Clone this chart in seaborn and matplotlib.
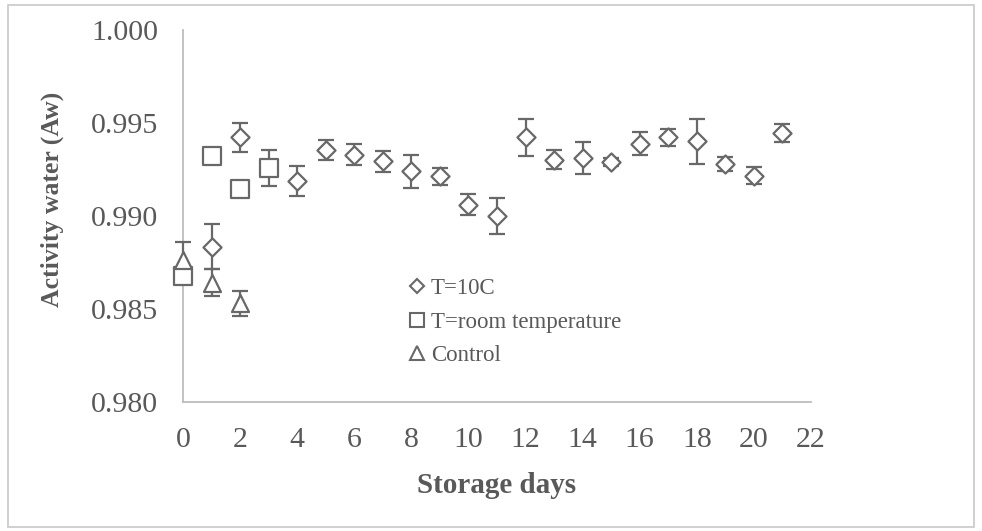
import matplotlib
matplotlib.use("Agg")
import matplotlib.pyplot as plt
from matplotlib.lines import Line2D
from matplotlib.patches import Rectangle
import seaborn as sns
import pandas as pd
import numpy as np

# ---- data ----
days_10c = [1, 2, 4, 5, 6, 7, 8, 9, 10, 11, 12, 13, 14, 15, 16, 17, 18, 19, 20, 21]
aw_10c = [0.98835, 0.99422, 0.99189, 0.99352, 0.99329, 0.99293, 0.99239, 0.99212,
          0.99060, 0.99001, 0.99422, 0.99302, 0.99311, 0.99290, 0.99388, 0.99422,
          0.99401, 0.99279, 0.99216, 0.99446]
err_10c = [0.00121, 0.00080, 0.00081, 0.00054, 0.00058, 0.00057, 0.00088, 0.00047,
           0.00058, 0.00097, 0.00099, 0.00052, 0.00086, 0.00020, 0.00063, 0.00045,
           0.00121, 0.00037, 0.00047, 0.00050]

days_room = [0, 1, 2, 3]
aw_room = [0.98674, 0.99324, 0.99146, 0.99258]
err_room = [0.00030, 0.00020, 0.00020, 0.00097]

days_ctrl = [0, 1, 2]
aw_ctrl = [0.98763, 0.98641, 0.98530]
err_ctrl = [0.00095, 0.00072, 0.00068]

labels = ["T=10C", "T=room temperature", "Control"]
x_ticks = list(range(0, 23, 2))
y_ticks = [0.980, 0.985, 0.990, 0.995, 1.000]

df = pd.concat([
    pd.DataFrame({"day": days_10c, "aw": aw_10c, "err": err_10c, "series": labels[0]}),
    pd.DataFrame({"day": days_room, "aw": aw_room, "err": err_room, "series": labels[1]}),
    pd.DataFrame({"day": days_ctrl, "aw": aw_ctrl, "err": err_ctrl, "series": labels[2]}),
], ignore_index=True)

# ---- style ----
sns.set_style("white")
plt.rcParams["font.family"] = ["Liberation Serif", "DejaVu Serif"]

MK = "#686868"
TXT = "#595959"
SPINE = "#bdbdbd"
markers = {labels[0]: "D", labels[1]: "s", labels[2]: "^"}
sizes = {labels[0]: 85, labels[1]: 170, labels[2]: 150}

fig = plt.figure(figsize=(9.82, 5.31), dpi=100)
ax = fig.add_axes([183 / 982, 1 - 401.7 / 531, (811 - 183) / 982, (401.7 - 30) / 531])

# error bars
for lab in labels:
    sub = df[df["series"] == lab]
    eb = ax.errorbar(sub["day"], sub["aw"], yerr=sub["err"], fmt="none",
                     ecolor=MK, elinewidth=1.6, capsize=5.8, capthick=1.6, zorder=2)
    for art in eb.lines[1] + eb.lines[2]:
        art.set_clip_on(False)

# markers
for lab in labels:
    sub = df[df["series"] == lab]
    sns.scatterplot(data=sub, x="day", y="aw", marker=markers[lab], s=sizes[lab],
                    facecolor="white", edgecolor=MK, linewidth=1.6, ax=ax,
                    zorder=3, legend=False, clip_on=False)

ax.set_xlim(0, 22)
ax.set_ylim(0.980, 1.000)
ax.set_xticks(x_ticks)
ax.set_yticks(y_ticks)
ax.set_yticklabels([f"{v:.3f}" for v in y_ticks])

for s in ["top", "right"]:
    ax.spines[s].set_visible(False)
for s in ["left", "bottom"]:
    ax.spines[s].set_color(SPINE)
    ax.spines[s].set_linewidth(1.3)
    ax.spines[s].set_zorder(1)

ax.tick_params(axis="both", which="major", direction="out", length=7, width=1.3,
               color=SPINE, labelsize=21.5, labelcolor=TXT)
ax.tick_params(axis="y", pad=11)
ax.tick_params(axis="x", pad=11)

ax.set_xlabel("Storage days", fontsize=21, fontweight="bold", color=TXT, labelpad=14)
ax.set_ylabel("Activity water (Aw)", fontsize=18.5, fontweight="bold", color=TXT)
ax.yaxis.set_label_coords(-0.19, (401.7 - 199) / 371.7)

# legend (marker only)
handles = [
    Line2D([], [], linestyle="none", marker="D", markersize=7.5, markerfacecolor="white",
           markeredgecolor=MK, markeredgewidth=1.5),
    Line2D([], [], linestyle="none", marker="s", markersize=10, markerfacecolor="white",
           markeredgecolor=MK, markeredgewidth=1.5),
    Line2D([], [], linestyle="none", marker="^", markersize=10, markerfacecolor="white",
           markeredgecolor=MK, markeredgewidth=1.5),
]
leg = ax.legend(handles, labels, loc="upper left", bbox_to_anchor=(407 / 982, 1 - 278 / 531),
                bbox_transform=fig.transFigure, frameon=False, fontsize=16.5,
                handlelength=0.9, handletextpad=0.15, labelspacing=0.55, borderpad=0,
                borderaxespad=0)
for t in leg.get_texts():
    t.set_color(TXT)

# outer chart border
fig.patches.append(Rectangle((8 / 982, 4 / 531), (974 - 8) / 982, (526 - 4) / 531,
                             transform=fig.transFigure, fill=False,
                             edgecolor="#c8c8c8", linewidth=1.2))

fig.savefig("out.png", dpi=100, facecolor="white")
